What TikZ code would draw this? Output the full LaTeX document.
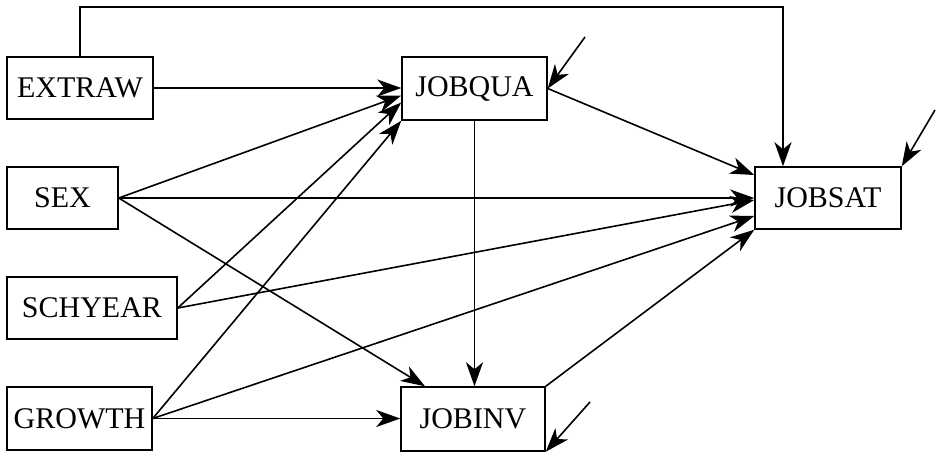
\documentclass[tikz,border=0pt]{standalone}
\usepackage{fontspec}
\setmainfont{Liberation Serif}
\usetikzlibrary{arrows.meta,calc}
\begin{document}
\begin{tikzpicture}[x=1pt,y=-1pt,
  var/.style={draw, line width=1.5pt, rectangle, inner sep=0pt, minimum height=62pt, font=\fontsize{30}{35}\selectfont},
  arr/.style={line width=1.6pt, -{Stealth[length=24pt,width=17pt,inset=7pt]}},
  ln/.style={line width=1.6pt}]
\useasboundingbox (0,0) rectangle (940,453);
\node[var, minimum width=146pt] (extraw) at (80,88) {EXTRAW};
\node[var, minimum width=111pt] (sex) at (62.5,198) {SEX};
\node[var, minimum width=170pt] (schyear) at (92,308) {SCHYEAR};
\node[var, minimum width=145pt, minimum height=63pt] (growth) at (79.5,418.5) {GROWTH};
\node[var, minimum width=145pt, minimum height=63pt] (jobqua) at (474.5,88.5) {JOBQUA};
\node[var, minimum width=146pt] (jobsat) at (828,198) {JOBSAT};
\node[var, minimum width=144pt, minimum height=64pt] (jobinv) at (473,419) {JOBINV};
\coordinate (topR) at (783,7);
\coordinate (e1) at (585,37);
\coordinate (e2) at (935,110);
\coordinate (e3) at (590,402);
% to JOBQUA
\draw[arr] (extraw.east) -- (extraw.east -| jobqua.west);
\draw[arr] (sex.east) -- ([yshift=-7pt]jobqua.west);
\draw[arr] (schyear.east) -- ([yshift=-14pt]jobqua.west);
\draw[arr] (growth.east) -- (jobqua.south west);
% to JOBSAT
\draw[arr] (sex.east) -- (jobsat.west);
\draw[arr] (schyear.east) -- ([yshift=-2pt]jobsat.west);
\draw[arr] (growth.east) -- ([yshift=-18pt]jobsat.west);
\draw[arr] (jobqua.east) -- ([yshift=23pt]jobsat.west);
\draw[arr] (jobinv.north east) -- (jobsat.south west);
\draw[arr] (extraw.north) |- (topR) -- (topR |- jobsat.north);
% to JOBINV
\draw[arr] (sex.east) -- ([xshift=-48pt]jobinv.north);
\draw[arr] (growth.east) -- (growth.east -| jobinv.west);
\draw[arr] (jobqua.south) -- (jobqua.south |- jobinv.north);
% disturbances
\draw[arr] (e1) -- (jobqua.east);
\draw[arr] (e2) -- (jobsat.north east);
\draw[arr] (e3) -- (jobinv.south east);
\end{tikzpicture}
\end{document}
